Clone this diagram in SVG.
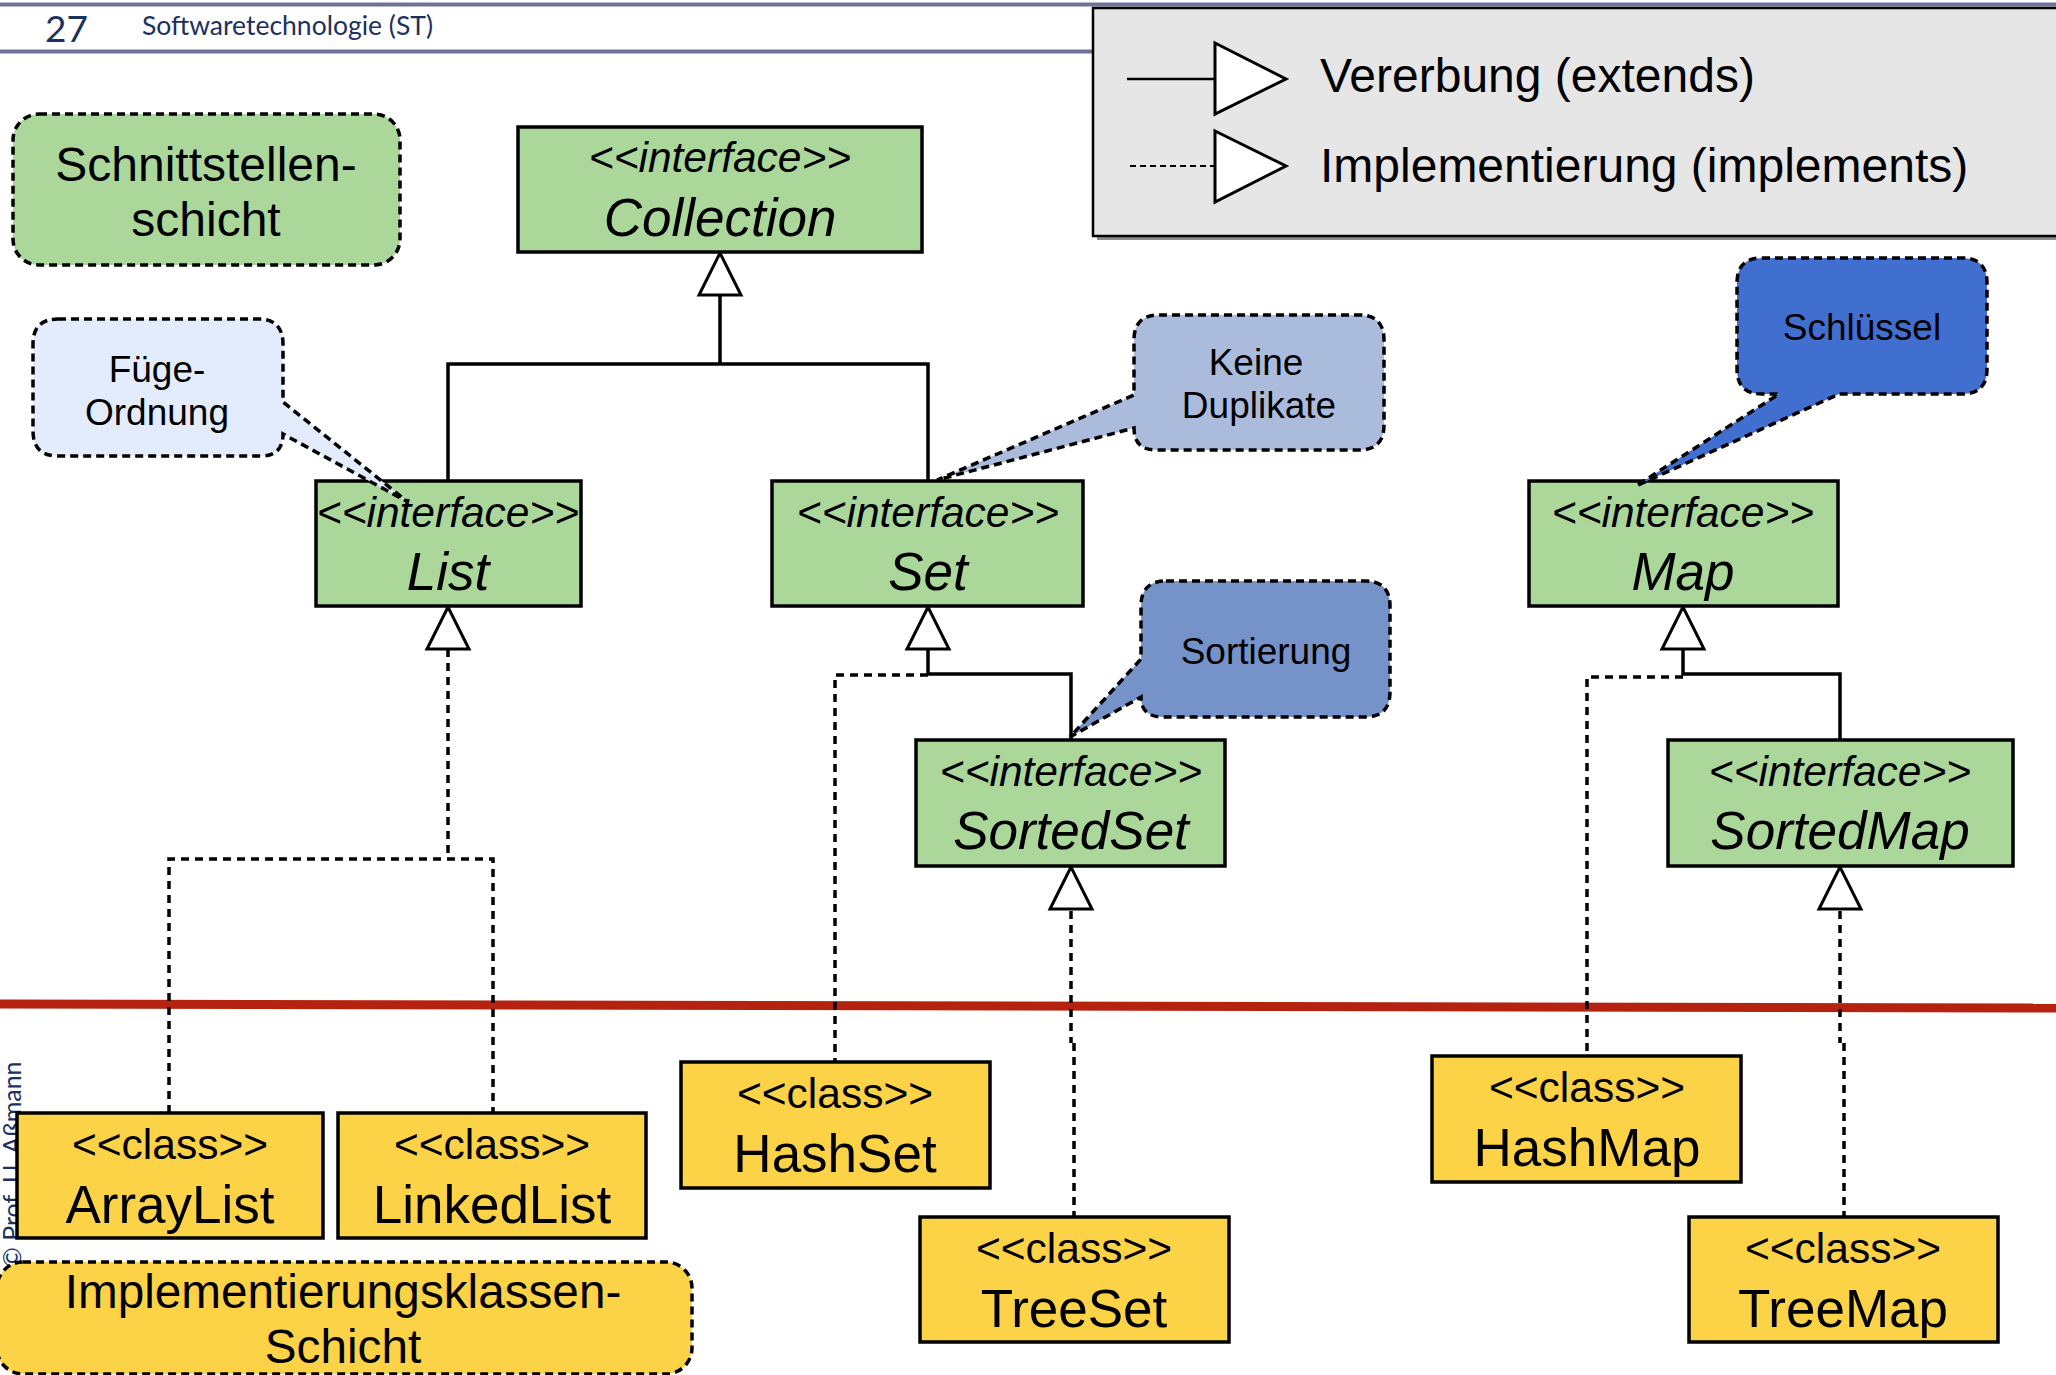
<svg xmlns="http://www.w3.org/2000/svg" width="2056" height="1375" viewBox="0 0 2056 1375">
<style>
  .t { font-family: "Liberation Sans", Arial, sans-serif; fill: #000; text-anchor: middle; }
  .st { font-size: 42.5px; }
  .nm { font-size: 53px; }
  .it { font-style: italic; }
  .iface { fill: #abd79a; stroke: #000; stroke-width: 3.5; }
  .cls { fill: #fcd246; stroke: #000; stroke-width: 3.5; }
  .note { stroke: #000; stroke-width: 3.5; stroke-dasharray: 8 5; }
  .ext { fill: none; stroke: #000; stroke-width: 3.5; }
  .impl { fill: none; stroke: #000; stroke-width: 3.5; stroke-dasharray: 8 6; }
  .tri { fill: #fff; stroke: #000; stroke-width: 3; stroke-linejoin: miter; }
  .hdr { font-family: Lato, "Open Sans", sans-serif; fill: #1c3160; }
</style>

<g id="background">
  <rect x="0" y="0" width="2056" height="1375" fill="#fff"/>
  <line x1="0" y1="4.5" x2="2056" y2="4.5" stroke="#6d7296" stroke-width="4"/>
  <line x1="0" y1="51.5" x2="1095" y2="51.5" stroke="#6d7296" stroke-width="4"/>
  <text class="hdr" x="45" y="42" font-size="37">27</text>
  <text class="hdr" x="142" y="35" font-size="26.5">Softwaretechnologie (ST)</text>
  <text class="hdr" transform="translate(21,1268) rotate(-90)" font-size="25">© Prof. U. Aßmann</text>
  <line x1="0" y1="1004" x2="2056" y2="1008" stroke="#b52310" stroke-width="9"/>
</g>

<g id="legend">
  <rect x="1097" y="12" width="980" height="228" fill="#8c8c8c"/>
  <rect x="1093" y="8" width="980" height="228" fill="#e6e6e6" stroke="#000" stroke-width="2.5"/>
  <line x1="1127" y1="79" x2="1215" y2="79" stroke="#000" stroke-width="2.5"/>
  <polygon class="tri" points="1215,43 1286,79 1215,114"/>
  <text class="t" x="1320" y="92" font-size="48" style="text-anchor:start">Vererbung (extends)</text>
  <line x1="1130" y1="166" x2="1215" y2="166" stroke="#000" stroke-width="2" stroke-dasharray="6 4"/>
  <polygon class="tri" points="1215,131 1286,166 1215,202"/>
  <text class="t" x="1320" y="182" font-size="48" style="text-anchor:start">Implementierung (implements)</text>
</g>

<g id="connectors">
  <path class="ext" d="M 720,295 V 364 M 448,481 V 364 H 928 V 481"/>
  <path class="ext" d="M 928,649 V 674 H 1071 V 741"/>
  <path class="impl" d="M 928,675 H 835 V 1063"/>
  <path class="impl" d="M 448,649 V 859 M 169,1113 V 859 H 493 V 1113"/>
  <path class="impl" d="M 1071,911 V 1043 M 1074,1043 V 1217"/>
  <path class="ext" d="M 1683,649 V 674 H 1840 V 741"/>
  <path class="impl" d="M 1683,677 H 1587 V 1057"/>
  <path class="impl" d="M 1840,911 V 1043 M 1844,1043 V 1217"/>
  <polygon class="tri" points="720,253 699,295 741,295"/>
  <polygon class="tri" points="448,607 427,649 469,649"/>
  <polygon class="tri" points="928,607 907,649 949,649"/>
  <polygon class="tri" points="1071,867 1050,909 1092,909"/>
  <polygon class="tri" points="1683,607 1662,649 1704,649"/>
  <polygon class="tri" points="1840,867 1819,909 1861,909"/>
</g>

<g id="layer-interfaces">
  <rect class="note" x="13" y="114" width="387" height="151" rx="26" fill="#abd79a"/>
  <text class="t" x="206" y="181" font-size="48">Schnittstellen-</text>
  <text class="t" x="206" y="236" font-size="48">schicht</text>
</g>

<g id="layer-classes">
  <rect class="note" x="-3" y="1262" width="695" height="112" rx="26" fill="#fcd246"/>
  <text class="t" x="343" y="1308" font-size="47.7">Implementierungsklassen-</text>
  <text class="t" x="343" y="1363" font-size="47.7">Schicht</text>
</g>

<g id="Collection">
  <rect class="iface" x="518" y="127" width="404" height="125"/>
  <text class="t st it" x="720" y="172">&lt;&lt;interface&gt;&gt;</text>
  <text class="t nm it" x="720" y="236">Collection</text>
</g>
<g id="List">
  <rect class="iface" x="316" y="481" width="265" height="125"/>
  <text class="t st it" x="448" y="527">&lt;&lt;interface&gt;&gt;</text>
  <text class="t nm it" x="448" y="590">List</text>
</g>
<g id="Set">
  <rect class="iface" x="772" y="481" width="311" height="125"/>
  <text class="t st it" x="928" y="527">&lt;&lt;interface&gt;&gt;</text>
  <text class="t nm it" x="928" y="590">Set</text>
</g>
<g id="Map">
  <rect class="iface" x="1529" y="481" width="309" height="125"/>
  <text class="t st it" x="1683" y="527">&lt;&lt;interface&gt;&gt;</text>
  <text class="t nm it" x="1683" y="590">Map</text>
</g>
<g id="SortedSet">
  <rect class="iface" x="916" y="740" width="309" height="126"/>
  <text class="t st it" x="1071" y="786">&lt;&lt;interface&gt;&gt;</text>
  <text class="t nm it" x="1071" y="849">SortedSet</text>
</g>
<g id="SortedMap">
  <rect class="iface" x="1668" y="740" width="345" height="126"/>
  <text class="t st it" x="1840" y="786">&lt;&lt;interface&gt;&gt;</text>
  <text class="t nm it" x="1840" y="849">SortedMap</text>
</g>

<g id="ArrayList">
  <rect class="cls" x="17" y="1113" width="306" height="125"/>
  <text class="t st" x="170" y="1159">&lt;&lt;class&gt;&gt;</text>
  <text class="t nm" x="170" y="1223">ArrayList</text>
</g>
<g id="LinkedList">
  <rect class="cls" x="338" y="1113" width="308" height="125"/>
  <text class="t st" x="492" y="1159">&lt;&lt;class&gt;&gt;</text>
  <text class="t nm" x="492" y="1223">LinkedList</text>
</g>
<g id="HashSet">
  <rect class="cls" x="681" y="1062" width="309" height="126"/>
  <text class="t st" x="835" y="1108">&lt;&lt;class&gt;&gt;</text>
  <text class="t nm" x="835" y="1172">HashSet</text>
</g>
<g id="TreeSet">
  <rect class="cls" x="920" y="1217" width="309" height="125"/>
  <text class="t st" x="1074" y="1263">&lt;&lt;class&gt;&gt;</text>
  <text class="t nm" x="1074" y="1327">TreeSet</text>
</g>
<g id="HashMap">
  <rect class="cls" x="1432" y="1056" width="309" height="126"/>
  <text class="t st" x="1587" y="1102">&lt;&lt;class&gt;&gt;</text>
  <text class="t nm" x="1587" y="1166">HashMap</text>
</g>
<g id="TreeMap">
  <rect class="cls" x="1689" y="1217" width="309" height="125"/>
  <text class="t st" x="1843" y="1263">&lt;&lt;class&gt;&gt;</text>
  <text class="t nm" x="1843" y="1327">TreeMap</text>
</g>

<g id="note-fuege">
  <path class="note" fill="#e3ecfc" d="M 58,319 H 258 Q 283,319 283,344 V 402 L 408,502 L 283,434 Q 283,456 261,456 H 58 Q 33,456 33,431 V 344 Q 33,319 58,319 Z"/>
  <text class="t" x="157" y="382" font-size="37">Füge-</text>
  <text class="t" x="157" y="425" font-size="37">Ordnung</text>
</g>
<g id="note-duplikate">
  <path class="note" fill="#abbbdc" d="M 1159,315 H 1359 Q 1384,315 1384,340 V 425 Q 1384,450 1359,450 H 1156 Q 1134,450 1134,428 L 937,480 L 1134,395 V 340 Q 1134,315 1159,315 Z"/>
  <text class="t" x="1256" y="375" font-size="37">Keine</text>
  <text class="t" x="1259" y="418" font-size="37">Duplikate</text>
</g>
<g id="note-sortierung">
  <path class="note" fill="#7592c9" d="M 1166,581 H 1365 Q 1390,581 1390,606 V 692 Q 1390,717 1365,717 H 1163 Q 1141,717 1141,697 L 1070,737 L 1141,659 V 606 Q 1141,581 1166,581 Z"/>
  <text class="t" x="1266" y="664" font-size="37">Sortierung</text>
</g>
<g id="note-schluessel">
  <path class="note" fill="#416fd0" d="M 1762,258 H 1962 Q 1987,258 1987,283 V 369 Q 1987,394 1962,394 H 1839 L 1636,486 L 1779,394 H 1762 Q 1737,394 1737,369 V 283 Q 1737,258 1762,258 Z"/>
  <text class="t" x="1862" y="340" font-size="37">Schlüssel</text>
</g>
</svg>
